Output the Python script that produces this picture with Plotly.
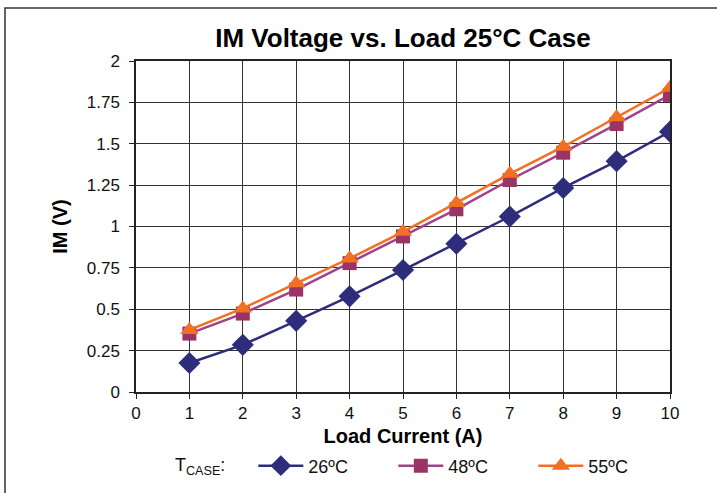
import plotly.graph_objects as go

load_current = [1, 2, 3, 4, 5, 6, 7, 8, 9, 10]
im_26c = [0.175, 0.285, 0.43, 0.578, 0.737, 0.896, 1.06, 1.233, 1.395, 1.573]
im_48c = [0.353, 0.474, 0.619, 0.779, 0.94, 1.104, 1.281, 1.446, 1.619, 1.795]
im_55c = [0.375, 0.505, 0.657, 0.807, 0.968, 1.142, 1.318, 1.482, 1.66, 1.838]

series_names = ["26ºC", "48ºC", "55ºC"]
x_ticks = list(range(0, 11))
y_ticks = [0, 0.25, 0.5, 0.75, 1, 1.25, 1.5, 1.75, 2]
y_tick_labels = ["0", "0.25", "0.5", "0.75", "1", "1.25", "1.5", "1.75", "2"]

FONT = "Liberation Sans, Arial, sans-serif"

fig = go.Figure()
fig.add_trace(go.Scatter(
    x=load_current, y=im_26c, name=series_names[0], mode="lines+markers",
    line=dict(color="#2E2D7C", width=2.5),
    marker=dict(symbol="diamond", size=17, color="#2E2D7C"),
))
fig.add_trace(go.Scatter(
    x=load_current, y=im_48c, name=series_names[1], mode="lines+markers",
    line=dict(color="#A0428A", width=2.5),
    marker=dict(symbol="square", size=14, color="#9A3366"),
))
fig.add_trace(go.Scatter(
    x=load_current, y=im_55c, name=series_names[2], mode="lines+markers",
    line=dict(color="#F36F21", width=2.5),
    marker=dict(symbol="triangle-up", size=16, color="#F36F21"),
))

axis_common = dict(
    showline=True, linecolor="#222222", linewidth=1.5, mirror=True,
    showgrid=True, gridcolor="#333333", gridwidth=1,
    ticks="outside", ticklen=5, tickcolor="#222222", tickwidth=1,
    tickfont=dict(family=FONT, size=17, color="#111111"),
    zeroline=False, automargin=False,
)

fig.update_xaxes(
    range=[0, 10], tickvals=x_ticks,
    title=dict(text="<b>Load Current (A)</b>", font=dict(family=FONT, size=20, color="#000"), standoff=9),
    **axis_common,
)
fig.update_yaxes(
    range=[0, 2], tickvals=y_ticks, ticktext=y_tick_labels, ticklabelstandoff=6,
    title=dict(text="<b>IM (V)</b>", font=dict(family=FONT, size=20, color="#000"), standoff=14),
    **axis_common,
)

fig.update_layout(
    width=717, height=493,
    margin=dict(l=136, r=47, t=61, b=101),
    paper_bgcolor="white", plot_bgcolor="white",
    title=dict(text="<b>IM Voltage vs. Load 25°C Case</b>", x=(136 + 670) / 2 / 717, xanchor="center",
               y=1 - 38 / 493, yanchor="middle", font=dict(family=FONT, size=26, color="#000")),
    showlegend=True,
    legend=dict(
        orientation="h", xref="container", yref="container",
        x=173 / 717, xanchor="left", y=1 - 466 / 493, yanchor="middle",
        title=dict(text="T<sub>CASE</sub>:&nbsp;&nbsp;&nbsp;&nbsp;", font=dict(family=FONT, size=18, color="#111")),
        font=dict(family=FONT, size=18, color="#111"),
        itemwidth=45, entrywidth=80, entrywidthmode="pixels",
        bgcolor="rgba(0,0,0,0)",
    ),
    shapes=[dict(type="rect", xref="paper", yref="paper",
                 x0=-131 / 534, x1=2.0, y0=-1.0, y1=(392 - 8) / 331,
                 line=dict(color="#333333", width=1.5), layer="below")],
)

fig.write_html("out.html", config={"displayModeBar": False},
               post_script="document.body.style.margin='0px';")
